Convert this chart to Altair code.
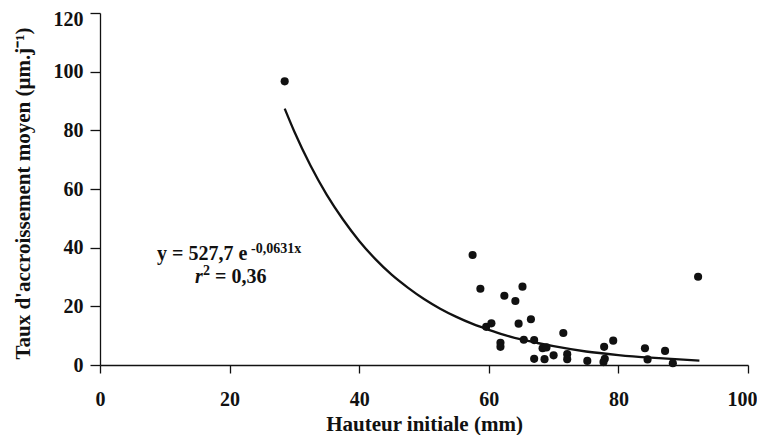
import altair as alt
import pandas as pd

hauteur = [28.5, 57.5, 58.7, 62.4, 64.1, 65.2, 59.6, 60.4, 64.6, 66.5, 61.8, 61.8,
           65.4, 67.0, 71.5, 68.3, 68.9, 67.0, 68.6, 70.0, 72.1, 72.1, 75.2, 77.8,
           79.2, 77.9, 77.7, 84.1, 84.5, 87.2, 88.4, 92.3]
taux = [96.7, 37.5, 26.0, 23.6, 21.8, 26.7, 13.0, 14.2, 14.1, 15.6, 7.6, 6.2,
        8.6, 8.5, 10.9, 5.7, 6.0, 2.1, 2.0, 3.3, 3.7, 2.0, 1.4, 6.2,
        8.3, 2.1, 1.0, 5.7, 1.9, 4.8, 0.6, 30.1]

# Fitted curve
courbe_x = [28.5, 30, 32.5, 35, 37.5, 40, 42.5, 45, 47.5, 50, 52.5, 55, 57.5, 60,
            62.5, 65, 67.5, 70, 75, 80, 85, 90, 92.5]
courbe_y = [87.4, 79.5, 67.9, 58.0, 49.6, 42.3, 36.1, 30.8, 26.4, 22.5, 19.2, 16.4,
            14.0, 12.0, 10.2, 8.7, 7.5, 6.4, 4.6, 3.4, 2.5, 1.8, 1.5]

x_ticks = [0, 20, 40, 60, 80, 100]
y_ticks = [0, 20, 40, 60, 80, 100, 120]

eq_main = ["y = 527,7 e"]
eq_exp = ["-0,0631x"]
r_letter = ["r"]
r_sup = ["2"]
r_val = ["= 0,36"]

FONT = "Liberation Serif"

pts = pd.DataFrame({"h": hauteur, "t": taux})
crv = pd.DataFrame({"h": courbe_x, "t": courbe_y})

xscale = alt.Scale(domain=[0, 100], nice=False)
yscale = alt.Scale(domain=[0, 120], nice=False)

xaxis = alt.Axis(values=x_ticks, title="Hauteur initiale (mm)", grid=False,
                 tickSize=8, labelPadding=32, labelBaseline="alphabetic",
                 labelFlush=False,
                 labelOffset={"condition": {"test": "datum.value == 100", "value": -6}, "value": 0},
                 titleY=65, titleBaseline="alphabetic")
yaxis = alt.Axis(values=y_ticks, title="Taux d'accroissement moyen (µm.j⁻¹)", grid=False,
                 tickSize=10, labelPadding=7, labelFlush=False,
                 labelOffset={"condition": {"test": "datum.value == 120", "value": 6}, "value": 0},
                 titleX=-71, titleY=180,
                 titleBaseline="alphabetic", titleAngle=270)

points = alt.Chart(pts).mark_circle(size=66, color="#111111", opacity=1).encode(
    x=alt.X("h:Q", scale=xscale, axis=xaxis),
    y=alt.Y("t:Q", scale=yscale, axis=yaxis),
)

line = alt.Chart(crv).mark_line(color="#111111", strokeWidth=2.3, interpolate="monotone").encode(
    x=alt.X("h:Q", scale=xscale),
    y=alt.Y("t:Q", scale=yscale),
)

def txt(lines, x, y, size, italic=False):
    return alt.Chart(pd.DataFrame({"s": lines})).mark_text(
        font=FONT, fontWeight="bold", fontSize=size, align="left",
        baseline="alphabetic", color="#111111",
        fontStyle="italic" if italic else "normal",
    ).encode(text="s:N", x=alt.value(x), y=alt.value(y))

texts = (txt(eq_main, 57, 247, 20) + txt(eq_exp, 151, 240, 14) +
         txt(r_letter, 95, 270, 20, italic=True) + txt(r_sup, 103, 262, 14) +
         txt(r_val, 115, 270, 20))

chart = alt.layer(line, points, texts).properties(
    width=648, height=352,
    padding={"left": 92, "top": 5, "right": 9, "bottom": 70},
    autosize=alt.AutoSizeParams(type="none"),
).configure_view(stroke=None).configure_axis(
    labelFont=FONT, labelFontWeight="bold", labelFontSize=20, labelColor="#111111",
    titleFont=FONT, titleFontWeight="bold", titleFontSize=21, titleColor="#111111",
    domainColor="#111111", tickColor="#111111", domainWidth=1.3, tickWidth=1.3,
)

chart.save("out.html", embed_options={"renderer": "svg", "actions": False})
